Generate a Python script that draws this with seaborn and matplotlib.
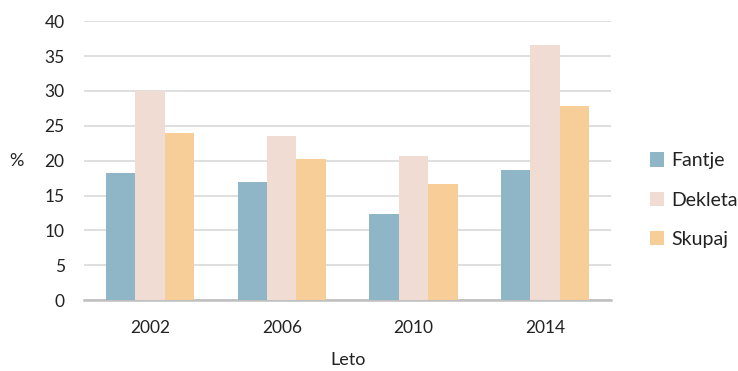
import numpy as np
import pandas as pd
import seaborn as sns
import matplotlib.pyplot as plt

years = ['2002', '2006', '2010', '2014']
fantje = [18.2, 16.9, 12.4, 18.7]
dekleta = [30.0, 23.6, 20.7, 36.6]
skupaj = [23.9, 20.2, 16.6, 27.8]
series = ['Fantje', 'Dekleta', 'Skupaj']
colors = ['#8FB6C7', '#F0DCD3', '#F7CD98']

df = pd.DataFrame({'Leto': years * 3,
                   'skupina': [s for s in series for _ in years],
                   'vrednost': fantje + dekleta + skupaj})

sns.set_style('white')
plt.rcParams['font.family'] = ['Lato', 'DejaVu Sans']

fig = plt.figure(figsize=(7.38, 3.71), dpi=100)
ax = fig.add_axes([0.114, 0.191, 0.714, 0.752])

sns.barplot(data=df, x='Leto', y='vrednost', hue='skupina', palette=colors,
            width=0.67, saturation=1, linewidth=0, ax=ax, zorder=3)

ax.set_ylim(0, 40)
ax.set_yticks(range(0, 41, 5))
ax.yaxis.grid(True, color='#D9D9D9', linewidth=1.2, zorder=0)
ax.set_axisbelow(True)
for s in ['top', 'right', 'left']:
    ax.spines[s].set_visible(False)
ax.spines['bottom'].set_color('#BFBFBF')
ax.spines['bottom'].set_linewidth(1.8)
ax.tick_params(axis='both', length=0, labelsize=12.5, colors='#222222')
ax.tick_params(axis='y', pad=14)
ax.tick_params(axis='x', pad=14)

ax.set_xlabel('Leto', fontsize=13, color='#222222', labelpad=12)
ax.set_ylabel('%', fontsize=13, color='#222222', rotation=0, labelpad=20, va='center')

ax.legend(loc='center left', bbox_to_anchor=(1.04, 0.358), frameon=False,
          fontsize=14, handlelength=0.75, handleheight=0.75, handletextpad=0.35,
          labelspacing=1.15, labelcolor='#222222')

fig.savefig('out.png', dpi=100)
